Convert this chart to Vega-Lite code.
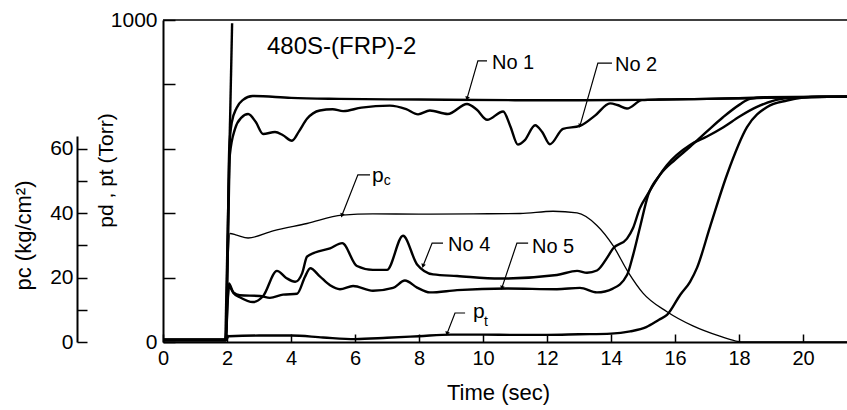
{
  "$schema": "https://vega.github.io/schema/vega-lite/v6.json",
  "width": 684,
  "height": 322,
  "autosize": {"type": "none"},
  "padding": {"left": 163, "top": 20, "right": 0, "bottom": 68},
  "background": "white",
  "config": {
    "view": {"stroke": null},
    "font": "Liberation Sans",
    "axis": {
      "grid": false,
      "domainColor": "black",
      "domainWidth": 2,
      "tickColor": "black",
      "tickWidth": 1.5,
      "labelColor": "black",
      "labelFont": "Liberation Sans",
      "labelFlush": false,
      "labelOverlap": false,
      "titleColor": "black",
      "titleFont": "Liberation Sans",
      "titleFontWeight": "normal"
    }
  },
  "datasets": {
    "curves": [
      {"series": "No 1", "t": 0, "v": 6}, {"series": "No 1", "t": 1.96, "v": 6}, {"series": "No 1", "t": 2.02, "v": 300}, {"series": "No 1", "t": 2.07, "v": 600}, {"series": "No 1", "t": 2.15, "v": 682}, {"series": "No 1", "t": 2.3, "v": 727}, {"series": "No 1", "t": 2.5, "v": 752}, {"series": "No 1", "t": 2.8, "v": 764}, {"series": "No 1", "t": 4, "v": 758}, {"series": "No 1", "t": 5.5, "v": 755}, {"series": "No 1", "t": 8, "v": 753}, {"series": "No 1", "t": 11, "v": 751}, {"series": "No 1", "t": 13, "v": 751}, {"series": "No 1", "t": 15, "v": 752}, {"series": "No 1", "t": 17, "v": 755}, {"series": "No 1", "t": 19, "v": 759}, {"series": "No 1", "t": 21.375, "v": 762},
      {"series": "No 2", "t": 0, "v": 8}, {"series": "No 2", "t": 1.96, "v": 8}, {"series": "No 2", "t": 2.03, "v": 300}, {"series": "No 2", "t": 2.09, "v": 582}, {"series": "No 2", "t": 2.25, "v": 662}, {"series": "No 2", "t": 2.45, "v": 697}, {"series": "No 2", "t": 2.66, "v": 708}, {"series": "No 2", "t": 2.9, "v": 683}, {"series": "No 2", "t": 3.13, "v": 646}, {"series": "No 2", "t": 3.5, "v": 652}, {"series": "No 2", "t": 3.75, "v": 642}, {"series": "No 2", "t": 4.03, "v": 625}, {"series": "No 2", "t": 4.25, "v": 654}, {"series": "No 2", "t": 4.5, "v": 693}, {"series": "No 2", "t": 4.9, "v": 719}, {"series": "No 2", "t": 5.3, "v": 723}, {"series": "No 2", "t": 5.63, "v": 717}, {"series": "No 2", "t": 6.2, "v": 728}, {"series": "No 2", "t": 7.09, "v": 734}, {"series": "No 2", "t": 7.6, "v": 723}, {"series": "No 2", "t": 7.97, "v": 707}, {"series": "No 2", "t": 8.34, "v": 719}, {"series": "No 2", "t": 8.9, "v": 708}, {"series": "No 2", "t": 9.5, "v": 739}, {"series": "No 2", "t": 9.8, "v": 722}, {"series": "No 2", "t": 10.13, "v": 690}, {"series": "No 2", "t": 10.63, "v": 716}, {"series": "No 2", "t": 10.85, "v": 671}, {"series": "No 2", "t": 11.09, "v": 613}, {"series": "No 2", "t": 11.3, "v": 626}, {"series": "No 2", "t": 11.63, "v": 673}, {"series": "No 2", "t": 11.85, "v": 652}, {"series": "No 2", "t": 12.09, "v": 614}, {"series": "No 2", "t": 12.5, "v": 662}, {"series": "No 2", "t": 13.03, "v": 671}, {"series": "No 2", "t": 13.5, "v": 703}, {"series": "No 2", "t": 13.97, "v": 741}, {"series": "No 2", "t": 14.2, "v": 736}, {"series": "No 2", "t": 14.5, "v": 725}, {"series": "No 2", "t": 14.97, "v": 751}, {"series": "No 2", "t": 15.5, "v": 753}, {"series": "No 2", "t": 17, "v": 755}, {"series": "No 2", "t": 19, "v": 759}, {"series": "No 2", "t": 21.375, "v": 762},
      {"series": "No 4", "t": 0, "v": 5}, {"series": "No 4", "t": 1.96, "v": 5}, {"series": "No 4", "t": 2.02, "v": 122}, {"series": "No 4", "t": 2.06, "v": 182}, {"series": "No 4", "t": 2.2, "v": 152}, {"series": "No 4", "t": 2.4, "v": 139}, {"series": "No 4", "t": 2.81, "v": 124}, {"series": "No 4", "t": 3.13, "v": 143}, {"series": "No 4", "t": 3.56, "v": 221}, {"series": "No 4", "t": 3.85, "v": 199}, {"series": "No 4", "t": 4.13, "v": 187}, {"series": "No 4", "t": 4.35, "v": 214}, {"series": "No 4", "t": 4.5, "v": 265}, {"series": "No 4", "t": 4.75, "v": 278}, {"series": "No 4", "t": 5.22, "v": 291}, {"series": "No 4", "t": 5.6, "v": 307}, {"series": "No 4", "t": 6.06, "v": 236}, {"series": "No 4", "t": 6.56, "v": 224}, {"series": "No 4", "t": 7.0, "v": 224}, {"series": "No 4", "t": 7.5, "v": 330}, {"series": "No 4", "t": 7.94, "v": 241}, {"series": "No 4", "t": 8.44, "v": 210}, {"series": "No 4", "t": 9.19, "v": 205}, {"series": "No 4", "t": 10.53, "v": 197}, {"series": "No 4", "t": 12.31, "v": 208}, {"series": "No 4", "t": 12.94, "v": 221}, {"series": "No 4", "t": 13.25, "v": 215}, {"series": "No 4", "t": 13.56, "v": 222}, {"series": "No 4", "t": 13.88, "v": 262}, {"series": "No 4", "t": 14.06, "v": 290}, {"series": "No 4", "t": 14.5, "v": 321}, {"series": "No 4", "t": 14.69, "v": 354}, {"series": "No 4", "t": 14.9, "v": 415}, {"series": "No 4", "t": 15.13, "v": 456}, {"series": "No 4", "t": 15.75, "v": 550}, {"series": "No 4", "t": 16.47, "v": 612}, {"series": "No 4", "t": 17, "v": 638}, {"series": "No 4", "t": 17.5, "v": 666}, {"series": "No 4", "t": 18.03, "v": 701}, {"series": "No 4", "t": 18.56, "v": 730}, {"series": "No 4", "t": 19.06, "v": 749}, {"series": "No 4", "t": 19.6, "v": 758}, {"series": "No 4", "t": 20.2, "v": 761}, {"series": "No 4", "t": 21.375, "v": 762},
      {"series": "No 5", "t": 0, "v": 7}, {"series": "No 5", "t": 1.96, "v": 7}, {"series": "No 5", "t": 2.02, "v": 132}, {"series": "No 5", "t": 2.06, "v": 172}, {"series": "No 5", "t": 2.2, "v": 154}, {"series": "No 5", "t": 2.4, "v": 145}, {"series": "No 5", "t": 3.03, "v": 143}, {"series": "No 5", "t": 3.34, "v": 137}, {"series": "No 5", "t": 3.75, "v": 147}, {"series": "No 5", "t": 4.19, "v": 150}, {"series": "No 5", "t": 4.44, "v": 203}, {"series": "No 5", "t": 4.6, "v": 229}, {"series": "No 5", "t": 4.9, "v": 204}, {"series": "No 5", "t": 5.22, "v": 176}, {"series": "No 5", "t": 5.53, "v": 164}, {"series": "No 5", "t": 5.94, "v": 174}, {"series": "No 5", "t": 6.56, "v": 159}, {"series": "No 5", "t": 7.19, "v": 168}, {"series": "No 5", "t": 7.56, "v": 191}, {"series": "No 5", "t": 7.94, "v": 169}, {"series": "No 5", "t": 8.34, "v": 154}, {"series": "No 5", "t": 9.19, "v": 161}, {"series": "No 5", "t": 10.75, "v": 166}, {"series": "No 5", "t": 12.31, "v": 164}, {"series": "No 5", "t": 13.03, "v": 168}, {"series": "No 5", "t": 13.56, "v": 154}, {"series": "No 5", "t": 14.06, "v": 166}, {"series": "No 5", "t": 14.5, "v": 208}, {"series": "No 5", "t": 14.69, "v": 270}, {"series": "No 5", "t": 14.9, "v": 354}, {"series": "No 5", "t": 15.16, "v": 456}, {"series": "No 5", "t": 15.53, "v": 519}, {"series": "No 5", "t": 16.0, "v": 566}, {"series": "No 5", "t": 16.47, "v": 606}, {"series": "No 5", "t": 17, "v": 654}, {"series": "No 5", "t": 17.5, "v": 698}, {"series": "No 5", "t": 18.03, "v": 738}, {"series": "No 5", "t": 18.34, "v": 755}, {"series": "No 5", "t": 18.8, "v": 760}, {"series": "No 5", "t": 21.375, "v": 762},
      {"series": "pt", "t": 0, "v": 5}, {"series": "pt", "t": 1.96, "v": 5}, {"series": "pt", "t": 2.05, "v": 18}, {"series": "pt", "t": 3, "v": 20}, {"series": "pt", "t": 4, "v": 20}, {"series": "pt", "t": 5, "v": 14}, {"series": "pt", "t": 6, "v": 9}, {"series": "pt", "t": 7, "v": 13}, {"series": "pt", "t": 8, "v": 18}, {"series": "pt", "t": 9, "v": 23}, {"series": "pt", "t": 10, "v": 23}, {"series": "pt", "t": 11, "v": 22}, {"series": "pt", "t": 12, "v": 22}, {"series": "pt", "t": 13, "v": 24}, {"series": "pt", "t": 14, "v": 26}, {"series": "pt", "t": 14.6, "v": 33}, {"series": "pt", "t": 15.1, "v": 46}, {"series": "pt", "t": 15.5, "v": 69}, {"series": "pt", "t": 15.75, "v": 84}, {"series": "pt", "t": 16.16, "v": 146}, {"series": "pt", "t": 16.47, "v": 187}, {"series": "pt", "t": 16.69, "v": 231}, {"series": "pt", "t": 17.09, "v": 356}, {"series": "pt", "t": 17.63, "v": 521}, {"series": "pt", "t": 18.25, "v": 667}, {"series": "pt", "t": 18.88, "v": 730}, {"series": "pt", "t": 19.5, "v": 750}, {"series": "pt", "t": 20, "v": 759}, {"series": "pt", "t": 20.5, "v": 762}, {"series": "pt", "t": 21.375, "v": 762},
      {"series": "spike", "t": 1.95, "v": 5}, {"series": "spike", "t": 2.16, "v": 990}
    ],
    "pc": [
      {"t": 0, "pc": 0.5}, {"t": 1.96, "pc": 0.5}, {"t": 2.03, "pc": 25}, {"t": 2.09, "pc": 33.7}, {"t": 2.3, "pc": 33.2}, {"t": 2.66, "pc": 32.3}, {"t": 3.44, "pc": 34.5}, {"t": 4.5, "pc": 36.8}, {"t": 5.6, "pc": 39.4}, {"t": 6.56, "pc": 39.8}, {"t": 8, "pc": 39.7}, {"t": 9.69, "pc": 39.8}, {"t": 11.16, "pc": 39.9}, {"t": 12.19, "pc": 40.6}, {"t": 12.94, "pc": 40.1}, {"t": 13.56, "pc": 36.2}, {"t": 14.06, "pc": 30.0}, {"t": 14.53, "pc": 21.8}, {"t": 15.0, "pc": 15.2}, {"t": 15.75, "pc": 9.4}, {"t": 16.56, "pc": 5.0}, {"t": 17.4, "pc": 1.8}, {"t": 17.9, "pc": 0.3}, {"t": 18.2, "pc": 0}, {"t": 21.375, "pc": 0}
    ],
    "leaders": [
      {"id": "No 1", "i": 0, "t": 10.125, "v": 873}, {"id": "No 1", "i": 1, "t": 9.84, "v": 873}, {"id": "No 1", "i": 2, "t": 9.5, "v": 756},
      {"id": "No 2", "i": 0, "t": 14.03, "v": 866}, {"id": "No 2", "i": 1, "t": 13.59, "v": 866}, {"id": "No 2", "i": 2, "t": 13.03, "v": 671},
      {"id": "pc", "i": 0, "t": 6.47, "v": 519}, {"id": "pc", "i": 1, "t": 6.09, "v": 519}, {"id": "pc", "i": 2, "t": 5.59, "v": 393},
      {"id": "No 4", "i": 0, "t": 8.75, "v": 307}, {"id": "No 4", "i": 1, "t": 8.41, "v": 307}, {"id": "No 4", "i": 2, "t": 8.125, "v": 236},
      {"id": "No 5", "i": 0, "t": 11.41, "v": 307}, {"id": "No 5", "i": 1, "t": 11.06, "v": 307}, {"id": "No 5", "i": 2, "t": 10.59, "v": 168},
      {"id": "pt", "i": 0, "t": 9.44, "v": 90}, {"id": "pt", "i": 1, "t": 9.125, "v": 90}, {"id": "pt", "i": 2, "t": 8.875, "v": 26}
    ],
    "labels": [
      {"label": "No 1", "t": 10.28, "v": 866},
      {"label": "No 2", "t": 14.125, "v": 860},
      {"label": "No 4", "t": 8.91, "v": 301},
      {"label": "No 5", "t": 11.53, "v": 295}
    ],
    "plabels": [
      {"label": "p", "t": 6.53, "v": 497},
      {"label": "p", "t": 9.69, "v": 75}
    ],
    "subs": [
      {"label": "c", "t": 6.9, "v": 487},
      {"label": "t", "t": 10.03, "v": 50}
    ],
    "heading": [
      {"label": "480S-(FRP)-2", "t": 3.25, "v": 916}
    ]
  },
  "layer": [
    {
      "layer": [
        {
          "data": {"name": "curves"},
          "mark": {"type": "line", "interpolate": "monotone", "strokeWidth": 2.4, "color": "black", "strokeJoin": "round"},
          "encoding": {
            "x": {
              "field": "t", "type": "quantitative",
              "scale": {"domain": [0, 21.375], "nice": false, "zero": false},
              "axis": {
                "title": "Time (sec)",
                "values": [0, 2, 4, 6, 8, 10, 12, 14, 16, 18, 20],
                "tickSize": -8,
                "labelPadding": 14,
                "labelFontSize": 20,
                "titleFontSize": 22,
                "titleX": 335,
                "titleY": 50,
                "titleBaseline": "middle"
              }
            },
            "y": {
              "field": "v", "type": "quantitative",
              "scale": {"domain": [0, 1000], "nice": false},
              "axis": {
                "title": "pd , pt (Torr)",
                "values": [0, 100, 200, 300, 400, 500, 600, 700, 800, 900, 1000],
                "labelExpr": "datum.value % 500 === 0 ? datum.label : ''",
                "format": "d",
                "tickSize": -12,
                "labelPadding": 18,
                "labelFontSize": 21,
                "titleFontSize": 21,
                "titleX": -57,
                "titleY": 150,
                "titleBaseline": "middle"
              }
            },
            "detail": {"field": "series"}
          }
        },
        {
          "data": {"name": "leaders"},
          "mark": {"type": "line", "strokeWidth": 1.2, "color": "black"},
          "encoding": {
            "x": {"field": "t", "type": "quantitative"},
            "y": {"field": "v", "type": "quantitative"},
            "detail": {"field": "id"},
            "order": {"field": "i"}
          }
        },
        {
          "data": {"name": "leaders"},
          "transform": [{"filter": "datum.i === 2"}],
          "mark": {"type": "point", "shape": "triangle-down", "angle": 18, "filled": true, "size": 22, "color": "black", "opacity": 1},
          "encoding": {
            "x": {"field": "t", "type": "quantitative"},
            "y": {"field": "v", "type": "quantitative"}
          }
        },
        {
          "data": {"name": "labels"},
          "mark": {"type": "text", "align": "left", "baseline": "middle", "fontSize": 20, "font": "Liberation Sans", "color": "black"},
          "encoding": {
            "x": {"field": "t", "type": "quantitative"},
            "y": {"field": "v", "type": "quantitative"},
            "text": {"field": "label"}
          }
        },
        {
          "data": {"name": "plabels"},
          "mark": {"type": "text", "align": "left", "baseline": "alphabetic", "fontSize": 21, "font": "Liberation Sans", "color": "black"},
          "encoding": {
            "x": {"field": "t", "type": "quantitative"},
            "y": {"field": "v", "type": "quantitative"},
            "text": {"field": "label"}
          }
        },
        {
          "data": {"name": "subs"},
          "mark": {"type": "text", "align": "left", "baseline": "alphabetic", "fontSize": 14, "font": "Liberation Sans", "color": "black"},
          "encoding": {
            "x": {"field": "t", "type": "quantitative"},
            "y": {"field": "v", "type": "quantitative"},
            "text": {"field": "label"}
          }
        },
        {
          "data": {"name": "heading"},
          "mark": {"type": "text", "align": "left", "baseline": "middle", "fontSize": 24, "font": "Liberation Sans", "color": "black"},
          "encoding": {
            "x": {"field": "t", "type": "quantitative"},
            "y": {"field": "v", "type": "quantitative"},
            "text": {"field": "label"}
          }
        },
        {
          "data": {"values": [{}]},
          "mark": {"type": "rule", "color": "black", "strokeWidth": 1.5},
          "encoding": {"y": {"datum": 1000}}
        }
      ]
    },
    {
      "data": {"name": "pc"},
      "mark": {"type": "line", "interpolate": "monotone", "strokeWidth": 1.3, "color": "black"},
      "encoding": {
        "x": {"field": "t", "type": "quantitative"},
        "y": {
          "field": "pc", "type": "quantitative",
          "scale": {"domain": [0, 100], "nice": false},
          "axis": {
            "orient": "left",
            "offset": 86,
            "title": "pc (kg/cm²)",
            "values": [0, 10, 20, 30, 40, 50, 60],
            "labelExpr": "datum.value % 20 === 0 ? datum.label : ''",
            "tickSize": -10,
            "labelPadding": 14,
            "labelFontSize": 21,
            "titleFontSize": 22,
            "domainDash": [206, 1000],
            "titleX": -54,
            "titleY": 215,
            "titleBaseline": "middle"
          }
        }
      }
    }
  ],
  "resolve": {"scale": {"y": "independent"}, "axis": {"y": "independent"}}
}
